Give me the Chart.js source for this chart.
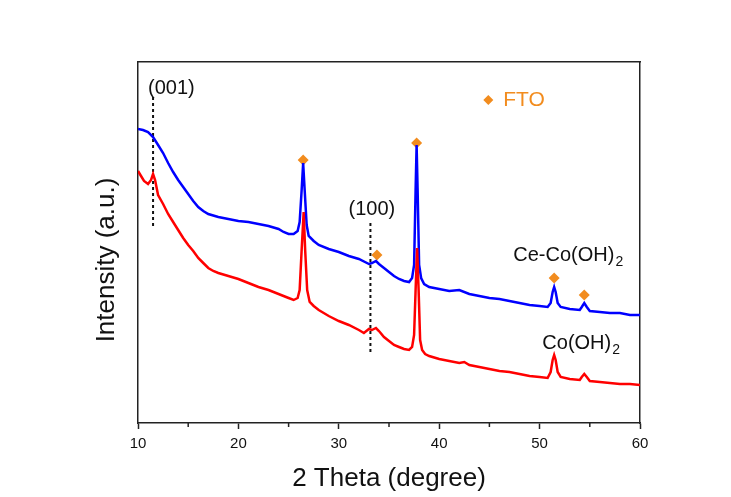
<!DOCTYPE html>
<html lang="en">
<head>
    <meta charset="UTF-8">
    <title>XRD Patterns</title>
    <style>
        body {
            margin: 0;
            background: #fff;
        }
        canvas {
            display: block;
        }
    </style>
    <script src="https://cdn.jsdelivr.net/npm/chart.js"></script>
</head>
<body>
    <canvas id="xrdChart" width="731" height="497"></canvas>

    <script>
        // Ce-Co(OH)2 pattern (blue)
        const ceCoTheta = [10.0, 10.5, 11.0, 11.5, 12.0, 12.5, 13.0, 13.5, 14.0, 14.5, 15.0, 15.5, 16.0, 16.5, 17.0, 18.0, 19.0, 20.0, 21.0, 22.0, 23.0, 24.0, 24.5, 25.0, 25.5, 25.9, 26.1, 26.3, 26.45, 26.6, 26.8, 27.0, 27.5, 28.0, 29.0, 30.0, 31.0, 32.0, 33.0, 33.3, 33.7, 34.0, 34.5, 35.0, 35.5, 36.0, 36.5, 37.0, 37.3, 37.5, 37.65, 37.75, 37.85, 38.0, 38.2, 38.5, 39.0, 40.0, 41.0, 42.0, 43.0, 44.0, 45.0, 46.0, 47.0, 48.0, 49.0, 50.0, 50.8, 51.1, 51.3, 51.45, 51.6, 51.8, 52.1, 53.0, 54.0, 54.2, 54.45, 54.7, 55.0, 56.0, 57.0, 58.0, 59.0, 60.0];
        const ceCoIntensity = [294, 293, 291, 286, 278, 270, 260, 251, 243, 236, 229, 222, 216, 212, 209, 206, 204, 202, 201, 199, 197, 194, 191, 189, 189, 192, 201, 233, 260, 233, 198, 187, 182, 178, 174, 171, 167, 164, 159, 160, 162, 159, 155, 151, 147, 144, 142, 141, 145, 158, 233, 278, 233, 158, 145, 139, 136, 134, 132, 133, 129, 127, 125, 124, 122, 120, 118, 117, 116, 120, 131, 136, 131, 120, 116, 114, 113, 116, 120, 116, 112, 111, 110, 110, 108, 108];

        // Co(OH)2 pattern (red)
        const coTheta = [10.0, 10.3, 10.6, 11.0, 11.3, 11.5, 11.7, 12.0, 12.5, 13.0, 13.5, 14.0, 14.5, 15.0, 15.5, 16.0, 16.5, 17.0, 17.5, 18.0, 19.0, 20.0, 21.0, 22.0, 23.0, 24.0, 25.0, 25.5, 25.9, 26.1, 26.3, 26.5, 26.65, 26.85, 27.1, 27.5, 28.0, 29.0, 30.0, 31.0, 32.0, 32.5, 33.0, 33.3, 33.7, 34.0, 34.5, 35.0, 35.5, 36.0, 36.5, 37.0, 37.3, 37.5, 37.65, 37.8, 37.95, 38.1, 38.3, 38.6, 39.0, 40.0, 41.0, 42.0, 42.5, 43.0, 44.0, 45.0, 46.0, 47.0, 48.0, 49.0, 50.0, 50.8, 51.1, 51.3, 51.45, 51.6, 51.8, 52.1, 53.0, 54.0, 54.2, 54.45, 54.7, 55.0, 56.0, 57.0, 58.0, 59.0, 60.0];
        const coIntensity = [252, 247, 242, 239, 243, 249, 243, 228, 219, 209, 201, 193, 185, 178, 172, 165, 160, 155, 152, 150, 147, 144, 140, 136, 133, 129, 125, 123, 125, 133, 173, 211, 173, 133, 121, 117, 113, 107, 102, 98, 93, 90, 94, 93, 95, 92, 86, 82, 78, 76, 74, 73, 76, 88, 133, 175, 133, 83, 73, 69, 67, 64, 62, 60, 61, 58, 56, 54, 52, 51, 49, 47, 46, 45, 51, 63, 68, 63, 51, 46, 44, 43, 46, 49, 46, 42, 41, 40, 39, 39, 38];

        // FTO substrate reflections marked with diamonds
        const ftoTheta = [26.45, 33.8, 37.75, 51.45, 54.45];
        const ftoIntensity = [263, 168, 280, 145, 128];

        // dashed guide lines for the (001) and (100) planes
        const planeLabels = ['(001)', '(100)'];
        const planeTheta = [11.5, 33.15];
        const planeTop = [326, 200];
        const planeBottom = [196, 70];

        const xTicks = [10, 20, 30, 40, 50, 60];
        const xMinorTicks = [15, 25, 35, 45, 55];

        const FONT = 'Arial, "Liberation Sans", sans-serif';
        const INK = '#111';
        const ORANGE = '#F28C1E';

        const toPoints = (xs, ys) => xs.map((x, i) => ({ x: x, y: ys[i] }));

        const guideSets = planeTheta.map((t, i) => ({
            data: [{ x: t, y: planeTop[i] }, { x: t, y: planeBottom[i] }],
            borderColor: INK,
            borderWidth: 2,
            borderDash: [3, 3],
            pointRadius: 0,
            fill: false
        }));

        // text labels, minor ticks and the rotated y title
        const extras = {
            id: 'extras',
            afterDatasetsDraw(chart) {
                const { ctx, chartArea } = chart;
                const xs = chart.scales.x;
                const ys = chart.scales.y;
                const px = v => xs.getPixelForValue(v);
                const py = v => ys.getPixelForValue(v);

                ctx.save();
                ctx.strokeStyle = '#222';
                ctx.lineWidth = 1.5;
                xMinorTicks.forEach(t => {
                    ctx.beginPath();
                    ctx.moveTo(px(t), chartArea.bottom);
                    ctx.lineTo(px(t), chartArea.bottom + 4);
                    ctx.stroke();
                });

                ctx.fillStyle = INK;
                ctx.font = '20px ' + FONT;
                ctx.textAlign = 'center';
                ctx.textBaseline = 'middle';
                ctx.fillText(planeLabels[0], px(13.32), py(335));
                ctx.fillText(planeLabels[1], px(33.29), py(214));

                const withSub = (main, sub, x, y) => {
                    ctx.textAlign = 'left';
                    ctx.font = '20px ' + FONT;
                    ctx.fillText(main, x, y);
                    const w = ctx.measureText(main).width;
                    ctx.font = '14px ' + FONT;
                    ctx.fillText(sub, x + w + 1, y + 7);
                };
                withSub('Ce-Co(OH)', '2', px(47.38), py(168));
                withSub('Co(OH)', '2', px(50.27), py(80));

                ctx.fillStyle = ORANGE;
                ctx.font = '21px ' + FONT;
                ctx.textAlign = 'left';
                ctx.fillText('FTO', px(46.38), py(323));

                ctx.fillStyle = INK;
                ctx.font = '26px ' + FONT;
                ctx.textAlign = 'center';
                ctx.translate(chartArea.left - 31.5, (chartArea.top + chartArea.bottom) / 2 + 17.5);
                ctx.rotate(-Math.PI / 2);
                ctx.fillText('Intensity (a.u.)', 0, 0);
                ctx.restore();
            }
        };

        const frameAxis = (pos, size) => ({
            type: 'linear',
            position: pos,
            min: pos === 'top' ? 10 : 0,
            max: pos === 'top' ? 60 : 361,
            ticks: { display: false },
            grid: { display: false, drawTicks: false },
            border: { display: true, color: '#222', width: 1.5 },
            afterFit(scale) {
                if (pos === 'top') scale.height = size;
                else scale.width = size;
            }
        });

        new Chart(document.getElementById('xrdChart'), {
            type: 'line',
            data: {
                datasets: [
                    {
                        label: 'Co(OH)2',
                        data: toPoints(coTheta, coIntensity),
                        borderColor: '#ff0000',
                        borderWidth: 2.5,
                        pointRadius: 0,
                        tension: 0,
                        fill: false
                    },
                    {
                        label: 'Ce-Co(OH)2',
                        data: toPoints(ceCoTheta, ceCoIntensity),
                        borderColor: '#0000ff',
                        borderWidth: 2.5,
                        pointRadius: 0,
                        tension: 0,
                        fill: false
                    },
                    ...guideSets,
                    {
                        label: 'FTO',
                        data: toPoints(ftoTheta, ftoIntensity),
                        showLine: false,
                        pointStyle: 'rectRot',
                        pointRadius: 5.5,
                        pointBorderWidth: 0,
                        pointBackgroundColor: ORANGE,
                        pointBorderColor: ORANGE
                    },
                    {
                        label: 'FTO key',
                        data: [{ x: 44.89, y: 323 }],
                        showLine: false,
                        pointStyle: 'rectRot',
                        pointRadius: 5,
                        pointBorderWidth: 0,
                        pointBackgroundColor: ORANGE,
                        pointBorderColor: ORANGE
                    }
                ]
            },
            options: {
                responsive: false,
                animation: false,
                events: [],
                layout: { padding: { left: 0, right: 0, top: 0, bottom: 0 } },
                plugins: {
                    legend: { display: false },
                    tooltip: { enabled: false }
                },
                scales: {
                    x: {
                        type: 'linear',
                        position: 'bottom',
                        min: 10,
                        max: 60,
                        afterBuildTicks(scale) {
                            scale.ticks = xTicks.map(v => ({ value: v }));
                        },
                        ticks: {
                            color: INK,
                            font: { family: FONT, size: 15 },
                            padding: 6,
                            maxRotation: 0
                        },
                        grid: {
                            drawOnChartArea: false,
                            drawTicks: true,
                            tickLength: 6,
                            tickColor: '#222',
                            tickWidth: 1.5
                        },
                        border: { display: true, color: '#222', width: 1.5 },
                        title: {
                            display: true,
                            text: '2 Theta (degree)',
                            color: INK,
                            font: { family: FONT, size: 26 },
                            padding: { top: 0, bottom: 3 }
                        },
                        afterFit(scale) { scale.height = 74; }
                    },
                    y: {
                        type: 'linear',
                        position: 'left',
                        min: 0,
                        max: 361,
                        ticks: { display: false },
                        grid: { display: false, drawTicks: false },
                        border: { display: true, color: '#222', width: 1.5 },
                        afterFit(scale) { scale.width = 138; }
                    },
                    x2: frameAxis('top', 62),
                    y2: frameAxis('right', 91)
                }
            },
            plugins: [extras]
        });
    </script>
</body>
</html>
